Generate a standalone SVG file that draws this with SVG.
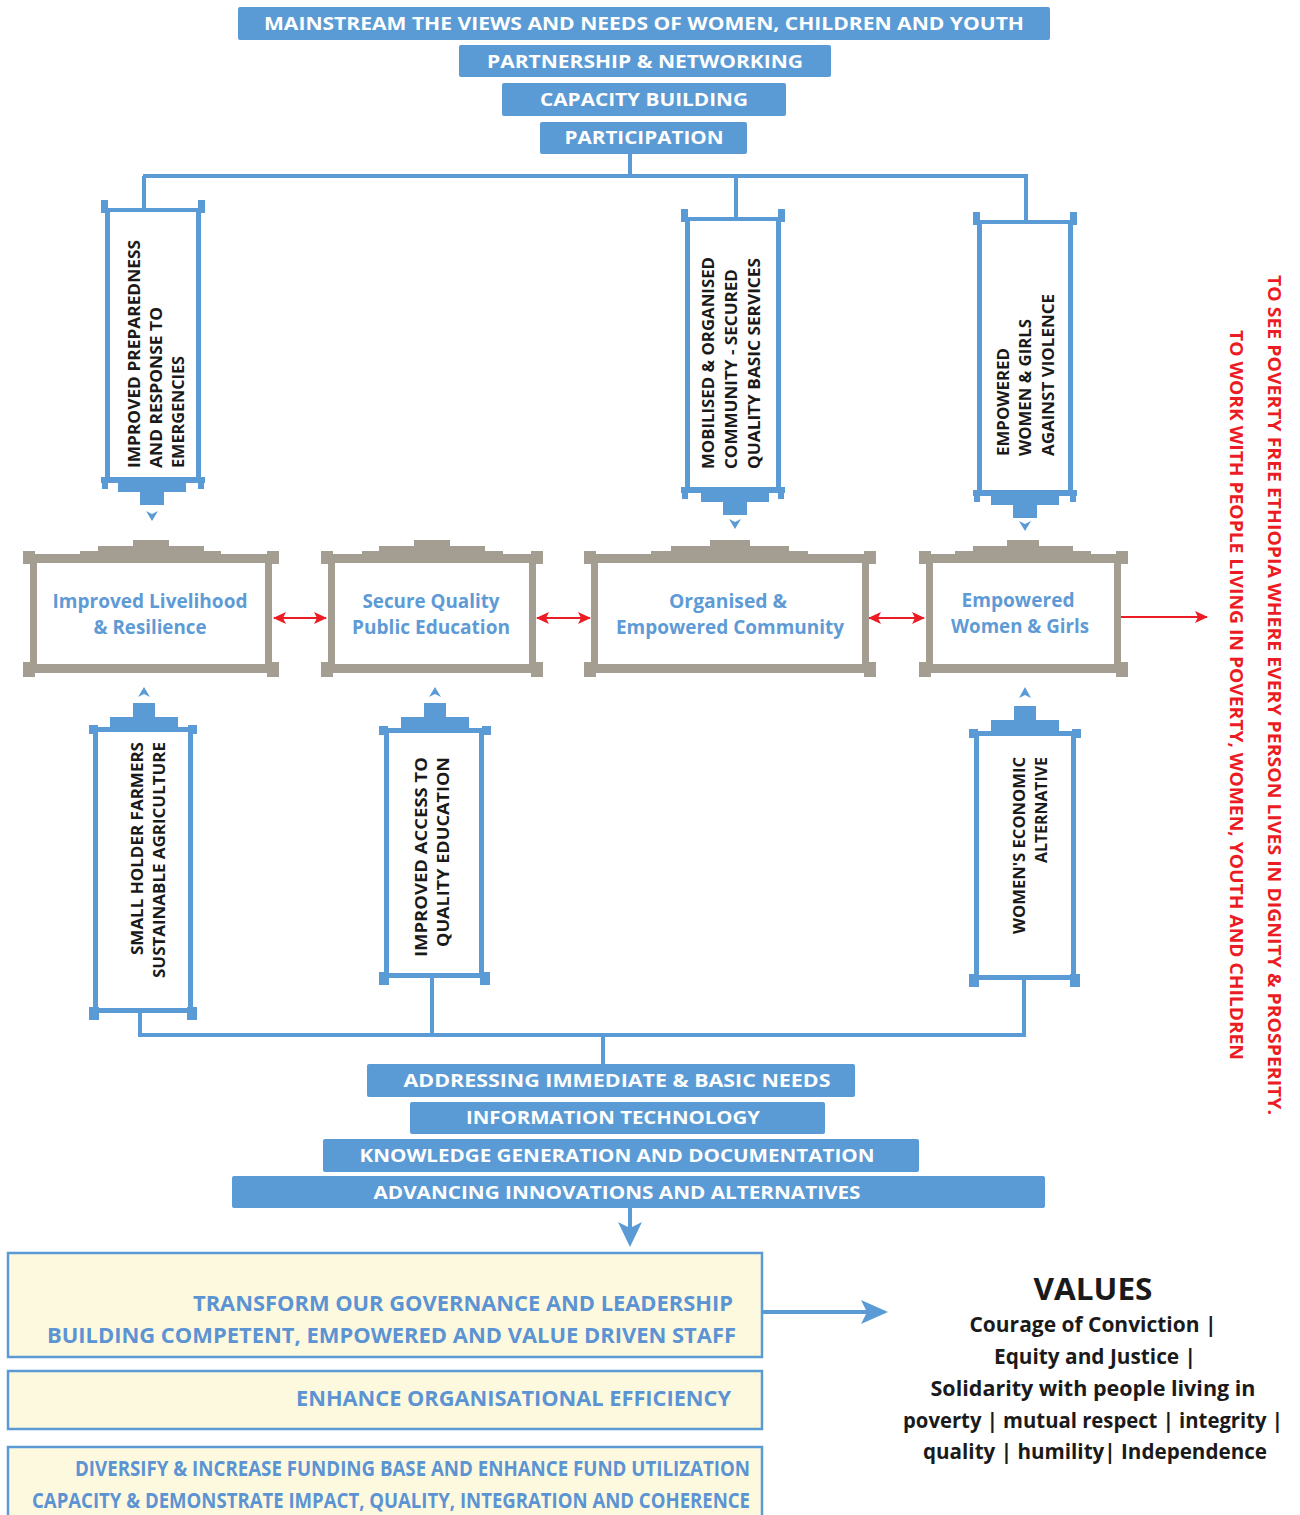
<svg xmlns="http://www.w3.org/2000/svg" width="1300" height="1515" viewBox="0 0 1300 1515">
<style>
.bg{fill:#ffffff}
.banner{fill:#5b9bd5}
.bt{font-family:"Open Sans","Liberation Sans",sans-serif;font-weight:700;font-size:17px;fill:#ffffff;text-anchor:middle}
.pil{fill:#5b9bd5}
.pt{font-family:"Open Sans","Liberation Sans",sans-serif;font-weight:700;font-size:16.5px;fill:#1a1a1a}
.gb{fill:#a39d92}
.boxt{font-family:"Open Sans","Liberation Sans",sans-serif;font-weight:700;font-size:19px;fill:#5e9bd6;text-anchor:middle}
.yb{fill:#fdf9df;stroke:#5b9bd5;stroke-width:2.5}
.yt{font-family:"Open Sans","Liberation Sans",sans-serif;font-weight:700;font-size:21px;fill:#5b93d3}
.val{font-family:"Open Sans","Liberation Sans",sans-serif;font-weight:700;font-size:20.5px;fill:#1a1a1a;text-anchor:middle}
.red{font-family:"Open Sans","Liberation Sans",sans-serif;font-weight:700;font-size:17px;fill:#ec1c24}
.conn{stroke:#5b9bd5;stroke-width:4;fill:none}
.rline{stroke:#ec1c24;stroke-width:2;fill:none}
</style>
<defs>
<marker id="rh" markerUnits="userSpaceOnUse" markerWidth="14" markerHeight="12" refX="12" refY="6" orient="auto-start-reverse">
<path d="M0,0 L13,6 L0,12 L3,6 Z" fill="#ec1c24"/>
</marker>
</defs>
<rect class="bg" x="0" y="0" width="1300" height="1515"/>

<!-- Top banners -->
<g id="banner-mainstream"><rect class="banner" x="238" y="7" width="812" height="33" rx="2"/><text class="bt" x="644" y="30" textLength="760" lengthAdjust="spacingAndGlyphs">MAINSTREAM THE VIEWS AND NEEDS OF WOMEN, CHILDREN AND YOUTH</text></g>
<g id="banner-partnership"><rect class="banner" x="459" y="45" width="372" height="32" rx="2"/><text class="bt" x="645" y="68" textLength="316" lengthAdjust="spacingAndGlyphs">PARTNERSHIP &amp; NETWORKING</text></g>
<g id="banner-capacity"><rect class="banner" x="502" y="83" width="284" height="33" rx="2"/><text class="bt" x="644" y="106" textLength="208" lengthAdjust="spacingAndGlyphs">CAPACITY BUILDING</text></g>
<g id="banner-participation"><rect class="banner" x="540" y="122" width="207" height="32" rx="2"/><text class="bt" x="644" y="144" textLength="159" lengthAdjust="spacingAndGlyphs">PARTICIPATION</text></g>

<!-- Connectors -->
<g id="connectors">
<path class="conn" d="M630,154 V176 M143,176 H1028 M144,176 V210 M736,176 V219 M1026,176 V222"/>
<path class="conn" d="M140,1012 V1035 H1026 M432,977 V1035 M1024,979 V1035 M603,1035 V1064"/>
<line class="rline" x1="274" y1="618" x2="326" y2="618" marker-start="url(#rh)" marker-end="url(#rh)"/>
<line class="rline" x1="537" y1="618" x2="590" y2="618" marker-start="url(#rh)" marker-end="url(#rh)"/>
<line class="rline" x1="869" y1="618" x2="924" y2="618" marker-start="url(#rh)" marker-end="url(#rh)"/>
<line class="rline" x1="1121" y1="617" x2="1207" y2="617" marker-end="url(#rh)"/>
<path class="conn" d="M630,1208 V1232"/>
<path class="banner" d="M618,1222 L630,1228 L642,1222 L630,1247 Z"/>
<path class="conn" d="M763,1312 H868"/>
<path class="banner" d="M861,1300 L888,1312 L861,1324 L867,1312 Z"/>
</g>

<!-- Top pillars -->
<g id="pillar-emergencies">
<rect class="pil" x="101" y="200" width="7" height="13"/><rect class="pil" x="198" y="200" width="7" height="13"/>
<rect class="pil" x="103" y="208" width="100" height="4"/>
<rect class="pil" x="105" y="208" width="5" height="270"/><rect class="pil" x="196" y="208" width="5" height="270"/>
<rect class="pil" x="101" y="477" width="104" height="6"/>
<rect class="pil" x="102" y="483" width="6" height="6"/><rect class="pil" x="198" y="483" width="6" height="6"/>
<rect class="pil" x="118" y="483" width="68" height="9"/><rect class="pil" x="140" y="492" width="24" height="13"/>
<path class="pil" d="M146,511 L152,514 L158,511 L152,521 Z"/>
<g transform="translate(140,468) rotate(-90)"><text class="pt" x="0" y="0" textLength="228" lengthAdjust="spacingAndGlyphs">IMPROVED PREPAREDNESS</text></g>
<g transform="translate(162,468) rotate(-90)"><text class="pt" x="0" y="0" textLength="161" lengthAdjust="spacingAndGlyphs">AND RESPONSE TO</text></g>
<g transform="translate(184,468) rotate(-90)"><text class="pt" x="0" y="0" textLength="112" lengthAdjust="spacingAndGlyphs">EMERGENCIES</text></g>
</g>

<g id="pillar-community">
<rect class="pil" x="681" y="209" width="7" height="13"/><rect class="pil" x="778" y="209" width="7" height="13"/>
<rect class="pil" x="683" y="217" width="100" height="4"/>
<rect class="pil" x="685" y="217" width="5" height="271"/><rect class="pil" x="776" y="217" width="5" height="271"/>
<rect class="pil" x="681" y="487" width="104" height="6"/>
<rect class="pil" x="682" y="493" width="6" height="6"/><rect class="pil" x="778" y="493" width="6" height="6"/>
<rect class="pil" x="701" y="493" width="68" height="9"/><rect class="pil" x="723" y="502" width="24" height="13"/>
<path class="pil" d="M729,519 L735,522 L741,519 L735,529 Z"/>
<g transform="translate(714,469) rotate(-90)"><text class="pt" x="0" y="0" textLength="212" lengthAdjust="spacingAndGlyphs">MOBILISED &amp; ORGANISED</text></g>
<g transform="translate(737,469) rotate(-90)"><text class="pt" x="0" y="0" textLength="200" lengthAdjust="spacingAndGlyphs">COMMUNITY - SECURED</text></g>
<g transform="translate(760,469) rotate(-90)"><text class="pt" x="0" y="0" textLength="211" lengthAdjust="spacingAndGlyphs">QUALITY BASIC SERVICES</text></g>
</g>

<g id="pillar-violence">
<rect class="pil" x="973" y="212" width="7" height="13"/><rect class="pil" x="1070" y="212" width="7" height="13"/>
<rect class="pil" x="975" y="220" width="100" height="4"/>
<rect class="pil" x="977" y="220" width="5" height="271"/><rect class="pil" x="1068" y="220" width="5" height="271"/>
<rect class="pil" x="973" y="490" width="104" height="6"/>
<rect class="pil" x="974" y="496" width="6" height="6"/><rect class="pil" x="1070" y="496" width="6" height="6"/>
<rect class="pil" x="991" y="496" width="68" height="9"/><rect class="pil" x="1013" y="505" width="24" height="13"/>
<path class="pil" d="M1019,521 L1025,524 L1031,521 L1025,531 Z"/>
<g transform="translate(1009,456) rotate(-90)"><text class="pt" x="0" y="0" textLength="108" lengthAdjust="spacingAndGlyphs">EMPOWERED</text></g>
<g transform="translate(1031,456) rotate(-90)"><text class="pt" x="0" y="0" textLength="137" lengthAdjust="spacingAndGlyphs">WOMEN &amp; GIRLS</text></g>
<g transform="translate(1054,456) rotate(-90)"><text class="pt" x="0" y="0" textLength="162" lengthAdjust="spacingAndGlyphs">AGAINST VIOLENCE</text></g>
</g>

<!-- Outcome boxes -->
<g id="box-livelihood">
<rect class="gb" x="133" y="540" width="36" height="9"/><rect class="gb" x="98" y="546" width="106" height="8"/><rect class="gb" x="80" y="551" width="141" height="6"/>
<rect class="gb" x="24" y="554" width="254" height="9"/>
<rect class="gb" x="23" y="551" width="12" height="13"/><rect class="gb" x="267" y="551" width="12" height="13"/>
<rect class="gb" x="30" y="560" width="7" height="108"/><rect class="gb" x="265" y="560" width="7" height="108"/>
<rect class="gb" x="24" y="664" width="254" height="9"/>
<rect class="gb" x="23" y="662" width="12" height="15"/><rect class="gb" x="267" y="662" width="12" height="15"/>
<text class="boxt" x="150" y="608" textLength="195" lengthAdjust="spacingAndGlyphs">Improved Livelihood</text>
<text class="boxt" x="150" y="634" textLength="113" lengthAdjust="spacingAndGlyphs">&amp; Resilience</text>
</g>
<g id="box-education">
<rect class="gb" x="414" y="540" width="36" height="9"/><rect class="gb" x="379" y="546" width="106" height="8"/><rect class="gb" x="362" y="551" width="141" height="6"/>
<rect class="gb" x="322" y="554" width="220" height="9"/>
<rect class="gb" x="321" y="551" width="12" height="13"/><rect class="gb" x="531" y="551" width="12" height="13"/>
<rect class="gb" x="328" y="560" width="7" height="108"/><rect class="gb" x="529" y="560" width="7" height="108"/>
<rect class="gb" x="322" y="664" width="220" height="9"/>
<rect class="gb" x="321" y="662" width="12" height="15"/><rect class="gb" x="531" y="662" width="12" height="15"/>
<text class="boxt" x="431" y="608" textLength="137" lengthAdjust="spacingAndGlyphs">Secure Quality</text>
<text class="boxt" x="431" y="634" textLength="158" lengthAdjust="spacingAndGlyphs">Public Education</text>
</g>
<g id="box-community">
<rect class="gb" x="710" y="540" width="40" height="9"/><rect class="gb" x="671" y="546" width="118" height="8"/><rect class="gb" x="651" y="551" width="157" height="6"/>
<rect class="gb" x="585" y="554" width="290" height="9"/>
<rect class="gb" x="584" y="551" width="12" height="13"/><rect class="gb" x="864" y="551" width="12" height="13"/>
<rect class="gb" x="591" y="560" width="7" height="108"/><rect class="gb" x="862" y="560" width="7" height="108"/>
<rect class="gb" x="585" y="664" width="290" height="9"/>
<rect class="gb" x="584" y="662" width="12" height="15"/><rect class="gb" x="864" y="662" width="12" height="15"/>
<text class="boxt" x="728" y="608" textLength="118" lengthAdjust="spacingAndGlyphs">Organised &amp;</text>
<text class="boxt" x="730" y="634" textLength="228" lengthAdjust="spacingAndGlyphs">Empowered Community</text>
</g>
<g id="box-women">
<rect class="gb" x="1007" y="540" width="32" height="9"/><rect class="gb" x="973" y="546" width="100" height="8"/><rect class="gb" x="955" y="551" width="136" height="6"/>
<rect class="gb" x="920" y="554" width="207" height="9"/>
<rect class="gb" x="919" y="551" width="12" height="13"/><rect class="gb" x="1116" y="551" width="12" height="13"/>
<rect class="gb" x="926" y="560" width="7" height="108"/><rect class="gb" x="1114" y="560" width="7" height="108"/>
<rect class="gb" x="920" y="664" width="207" height="9"/>
<rect class="gb" x="919" y="662" width="12" height="15"/><rect class="gb" x="1116" y="662" width="12" height="15"/>
<text class="boxt" x="1018" y="607" textLength="113" lengthAdjust="spacingAndGlyphs">Empowered</text>
<text class="boxt" x="1020" y="633" textLength="138" lengthAdjust="spacingAndGlyphs">Women &amp; Girls</text>
</g>

<!-- Bottom pillars -->
<g id="pillar-agriculture">
<path class="pil" d="M138,697 L144,694 L150,697 L144,687 Z"/>
<rect class="pil" x="133" y="703" width="22" height="15"/><rect class="pil" x="110" y="717" width="68" height="11"/>
<rect class="pil" x="90" y="727" width="106" height="5"/>
<rect class="pil" x="89" y="725" width="9" height="9"/><rect class="pil" x="188" y="725" width="9" height="9"/>
<rect class="pil" x="93" y="727" width="5" height="285"/><rect class="pil" x="188" y="727" width="5" height="285"/>
<rect class="pil" x="90" y="1008" width="106" height="5"/>
<rect class="pil" x="89" y="1007" width="10" height="13"/><rect class="pil" x="187" y="1007" width="10" height="13"/>
<g transform="translate(143,742) rotate(-90)"><text class="pt" x="0" y="0" text-anchor="end" textLength="213" lengthAdjust="spacingAndGlyphs">SMALL HOLDER FARMERS</text></g>
<g transform="translate(165,742) rotate(-90)"><text class="pt" x="0" y="0" text-anchor="end" textLength="236" lengthAdjust="spacingAndGlyphs">SUSTAINABLE AGRICULTURE</text></g>
</g>
<g id="pillar-education">
<path class="pil" d="M429,697 L435,694 L441,697 L435,687 Z"/>
<rect class="pil" x="424" y="703" width="22" height="15"/><rect class="pil" x="401" y="717" width="68" height="11"/>
<rect class="pil" x="380" y="728" width="110" height="5"/>
<rect class="pil" x="379" y="726" width="9" height="9"/><rect class="pil" x="482" y="726" width="9" height="9"/>
<rect class="pil" x="384" y="728" width="5" height="249"/><rect class="pil" x="479" y="728" width="5" height="249"/>
<rect class="pil" x="380" y="973" width="110" height="5"/>
<rect class="pil" x="379" y="972" width="10" height="13"/><rect class="pil" x="480" y="972" width="10" height="13"/>
<g transform="translate(427,757) rotate(-90)"><text class="pt" x="0" y="0" text-anchor="end" textLength="200" lengthAdjust="spacingAndGlyphs">IMPROVED ACCESS TO</text></g>
<g transform="translate(449,757) rotate(-90)"><text class="pt" x="0" y="0" text-anchor="end" textLength="190" lengthAdjust="spacingAndGlyphs">QUALITY EDUCATION</text></g>
</g>
<g id="pillar-economic">
<path class="pil" d="M1019,698 L1025,695 L1031,698 L1025,687 Z"/>
<rect class="pil" x="1014" y="706" width="22" height="15"/><rect class="pil" x="991" y="720" width="68" height="11"/>
<rect class="pil" x="970" y="731" width="110" height="5"/>
<rect class="pil" x="969" y="729" width="9" height="9"/><rect class="pil" x="1072" y="729" width="9" height="9"/>
<rect class="pil" x="974" y="731" width="5" height="248"/><rect class="pil" x="1071" y="731" width="5" height="248"/>
<rect class="pil" x="970" y="975" width="110" height="5"/>
<rect class="pil" x="969" y="974" width="10" height="13"/><rect class="pil" x="1070" y="974" width="10" height="13"/>
<g transform="translate(1025,757) rotate(-90)"><text class="pt" x="0" y="0" text-anchor="end" textLength="177" lengthAdjust="spacingAndGlyphs">WOMEN'S ECONOMIC</text></g>
<g transform="translate(1047,757) rotate(-90)"><text class="pt" x="0" y="0" text-anchor="end" textLength="106" lengthAdjust="spacingAndGlyphs">ALTERNATIVE</text></g>
</g>

<!-- Bottom banners -->
<g id="banner-basic-needs"><rect class="banner" x="367" y="1064" width="488" height="33" rx="2"/><text class="bt" x="617" y="1087" textLength="427" lengthAdjust="spacingAndGlyphs">ADDRESSING IMMEDIATE &amp; BASIC NEEDS</text></g>
<g id="banner-it"><rect class="banner" x="410" y="1102" width="415" height="32" rx="2"/><text class="bt" x="613" y="1124" textLength="294" lengthAdjust="spacingAndGlyphs">INFORMATION TECHNOLOGY</text></g>
<g id="banner-knowledge"><rect class="banner" x="323" y="1139" width="596" height="33" rx="2"/><text class="bt" x="617" y="1162" textLength="515" lengthAdjust="spacingAndGlyphs">KNOWLEDGE GENERATION AND DOCUMENTATION</text></g>
<g id="banner-innovations"><rect class="banner" x="232" y="1176" width="813" height="32" rx="2"/><text class="bt" x="617" y="1199" textLength="487" lengthAdjust="spacingAndGlyphs">ADVANCING INNOVATIONS AND ALTERNATIVES</text></g>

<!-- Organisational boxes -->
<g id="org-governance"><rect class="yb" x="8" y="1253" width="754" height="104"/>
<text class="yt" x="193" y="1311" textLength="540" lengthAdjust="spacingAndGlyphs">TRANSFORM OUR GOVERNANCE AND LEADERSHIP</text>
<text class="yt" x="47" y="1343" textLength="689" lengthAdjust="spacingAndGlyphs">BUILDING COMPETENT, EMPOWERED AND VALUE DRIVEN STAFF</text></g>
<g id="org-efficiency"><rect class="yb" x="8" y="1371" width="754" height="58"/>
<text class="yt" x="296" y="1406" textLength="435" lengthAdjust="spacingAndGlyphs">ENHANCE ORGANISATIONAL EFFICIENCY</text></g>
<g id="org-funding"><rect class="yb" x="8" y="1447" width="754" height="75"/>
<text class="yt" x="75" y="1476" textLength="675" lengthAdjust="spacingAndGlyphs">DIVERSIFY &amp; INCREASE FUNDING BASE AND ENHANCE FUND UTILIZATION</text>
<text class="yt" x="32" y="1508" textLength="718" lengthAdjust="spacingAndGlyphs">CAPACITY &amp; DEMONSTRATE IMPACT, QUALITY, INTEGRATION AND COHERENCE</text></g>

<!-- Values -->
<g id="values">
<text class="val" x="1093" y="1300" style="font-size:31px" textLength="119" lengthAdjust="spacingAndGlyphs">VALUES</text>
<text class="val" x="1093" y="1332" textLength="247" lengthAdjust="spacingAndGlyphs">Courage of Conviction |</text>
<text class="val" x="1095" y="1364" textLength="202" lengthAdjust="spacingAndGlyphs">Equity and Justice |</text>
<text class="val" x="1093" y="1396" textLength="325" lengthAdjust="spacingAndGlyphs">Solidarity with people living in</text>
<text class="val" x="1093" y="1428" textLength="380" lengthAdjust="spacingAndGlyphs">poverty | mutual respect | integrity |</text>
<text class="val" x="1095" y="1459" textLength="344" lengthAdjust="spacingAndGlyphs">quality | humility| Independence</text>
</g>

<!-- Vision / mission -->
<g id="vision">
<g transform="translate(1268,275) rotate(90)"><text class="red" x="0" y="0" textLength="840" lengthAdjust="spacingAndGlyphs">TO SEE POVERTY FREE ETHIOPIA WHERE EVERY PERSON LIVES IN DIGNITY &amp; PROSPERITY.</text></g>
<g transform="translate(1230,330) rotate(90)"><text class="red" x="0" y="0" textLength="730" lengthAdjust="spacingAndGlyphs">TO WORK WITH  PEOPLE LIVING IN POVERTY, WOMEN, YOUTH AND CHILDREN</text></g>
</g>
</svg>
